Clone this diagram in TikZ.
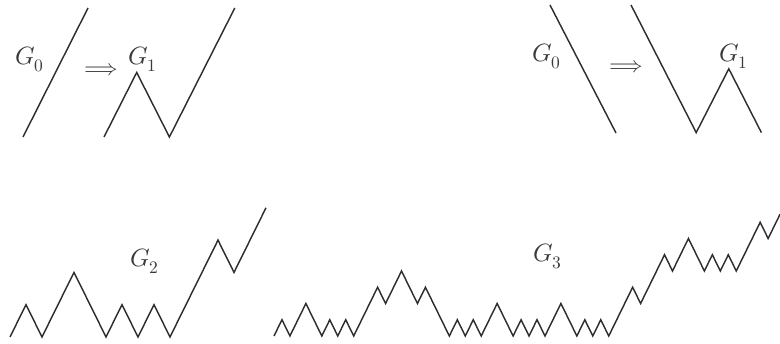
\documentclass[tikz,border=0pt]{standalone}
\usepackage{amsmath}
\usepackage{unicode-math}
\setmathfont{Latin Modern Math}
\usetikzlibrary{positioning}
\definecolor{ink}{HTML}{2E2E2E}
\definecolor{labelgray}{HTML}{3A3A3A}
\tikzset{
  cartoon/.style = {draw=ink, line width=1.45pt, line join=miter},
  glabel/.style  = {inner sep=0pt, anchor=base west, text=labelgray,
                    font=\fontsize{25}{30}\selectfont},
  implies/.style = {inner sep=0pt, text=labelgray, font=\fontsize{23}{28}\selectfont},
}

\begin{document}
\begin{tikzpicture}[x=1pt, y=-1pt]
  \useasboundingbox (0,0) rectangle (780,344);

  % upward generator
  \coordinate (upzero) at (23,137);
  \coordinate (upone) at (104,137);
  \draw[cartoon] (upzero) -- ++(65,-129);
  \draw[cartoon] (upone) \foreach \k in {1,-1,2} { -- ++({32.7*abs(\k)},{-64.5*\k}) };
  \node[glabel] (lg0) at (15,65) {$G_0$};
  \node[implies] (larrow) at (101,70) {$⟹$};
  \node[glabel] (lg1) at (128,65) {$G_1$};

  % downward generator
  \coordinate (dnzero) at (550,5);
  \coordinate (dnone) at (631,5);
  \draw[cartoon] (dnzero) -- ++(66,128);
  \draw[cartoon] (dnone) \foreach \k in {-2,1,-1} { -- ++({32.6*abs(\k)},{-63.8*\k}) };
  \node[glabel] (rg0) at (532,62) {$G_0$};
  \node[implies] (rarrow) at (626,67) {$⟹$};
  \node[glabel] (rg1) at (719,62) {$G_1$};

  % second stage
  \coordinate (gtwo) at (10,337);
  \draw[cartoon] (gtwo) \foreach \k in {1,-1,2,-2,1,-1,1,-1,3,-1,2}
    { -- ++({16*abs(\k)},{-32.3*\k}) };
  \node[glabel] (g2) at (130,267) {$G_2$};

  % third stage
  \coordinate (gthree) at (274,336);
  \draw[cartoon] (gthree) \foreach \k in {1,-1,2,-2,1,-1,1,-1,3,-1,2,-2,1,-3,
      1,-1,1,-1,2,-2,1,-1,1,-1,2,-2,1,-1,1,-1,3,-1,3,-1,2,-2,1,-1,1,-1,3,-1,1.5}
    { -- ++({7.97*abs(\k)},{-16.25*\k}) };
  \node[glabel] (g3) at (533,262) {$G_3$};
\end{tikzpicture}
\end{document}
